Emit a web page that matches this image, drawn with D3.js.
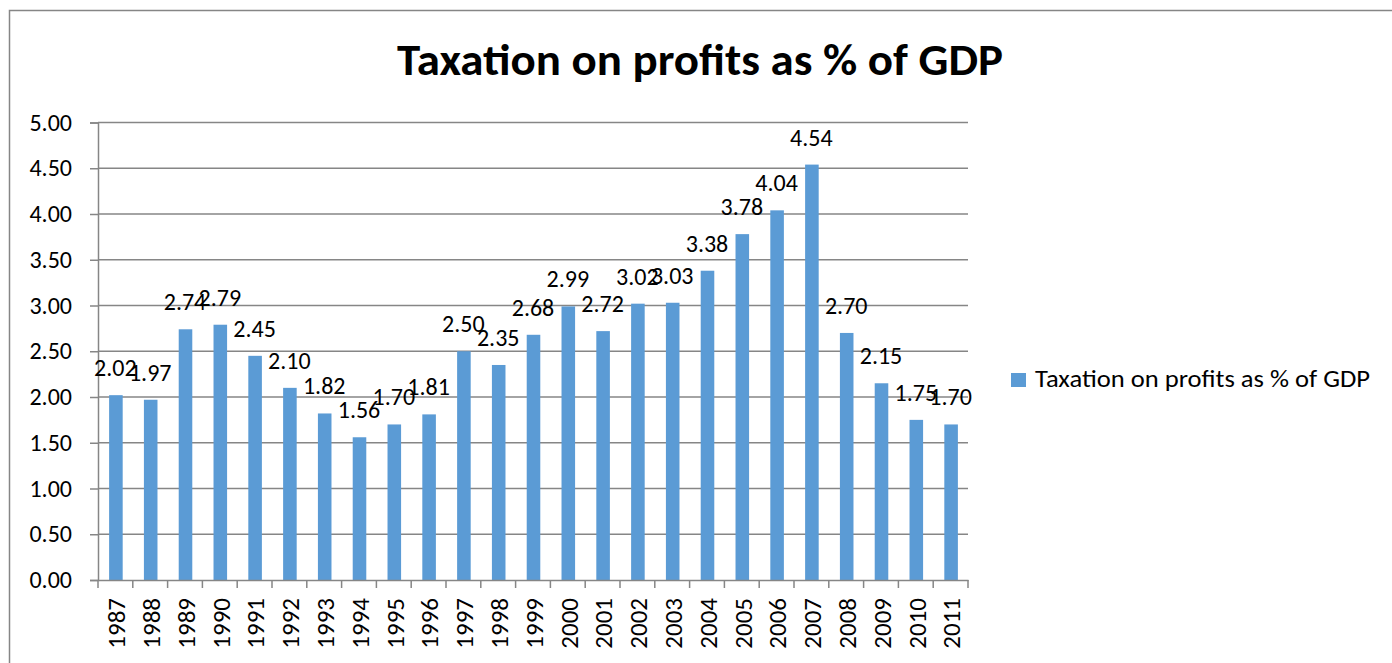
<!DOCTYPE html>
<html>
<head>
<meta charset="utf-8">
<script src="https://cdn.jsdelivr.net/npm/d3@7"></script>
<style>
  html, body { margin: 0; padding: 0; background: #fff; }
  svg { display: block; }
  text { font-family: Carlito, Lato, "Open Sans", sans-serif; fill: #000; }
</style>
</head>
<body>
<svg id="chart" width="1392" height="663"></svg>
<script>
// Corporate profit taxation, share of GDP, by year
const years = ["1987","1988","1989","1990","1991","1992","1993","1994","1995","1996",
               "1997","1998","1999","2000","2001","2002","2003","2004","2005","2006",
               "2007","2008","2009","2010","2011"];
const taxShare = [2.02, 1.97, 2.74, 2.79, 2.45, 2.10, 1.82, 1.56, 1.70, 1.81,
                  2.50, 2.35, 2.68, 2.99, 2.72, 3.02, 3.03, 3.38, 3.78, 4.04,
                  4.54, 2.70, 2.15, 1.75, 1.70];
const yTicks = [0, 0.5, 1, 1.5, 2, 2.5, 3, 3.5, 4, 4.5, 5];
const seriesName = "Taxation on profits as % of GDP";
const chartTitle = "Taxation on profits as % of GDP";

const svg = d3.select("#chart");
const barColor = "#5B9BD5";
const axisColor = "#868686";
const fontStack = "Carlito, Lato, 'Open Sans', sans-serif";
const labelSize = 24;

// outer chart frame
svg.append("rect")
  .attr("x", 9.5).attr("y", 10.5)
  .attr("width", 1400).attr("height", 700)
  .attr("fill", "none").attr("stroke", axisColor).attr("stroke-width", 1.5);

const plot = { left: 98, right: 968, top: 122.5, bottom: 580 };

const x = d3.scaleBand().domain(years).range([plot.left, plot.right]).padding(0);
const y = d3.scaleLinear().domain([0, 5]).range([plot.bottom, plot.top]);

// value axis with short outward ticks
const yAxis = d3.axisLeft(y)
  .tickValues(yTicks)
  .tickFormat(d3.format(".2f"))
  .tickSize(8)
  .tickPadding(18);

const yg = svg.append("g").attr("transform", `translate(${plot.left},0)`).call(yAxis);
yg.select(".domain").attr("stroke", axisColor).attr("stroke-width", 1.5);
yg.selectAll(".tick line").attr("stroke", axisColor).attr("stroke-width", 1.5);
yg.selectAll(".tick text").attr("font-size", labelSize).attr("fill", "#000")
  .attr("font-family", fontStack);

// horizontal gridlines
svg.append("g").selectAll("line")
  .data(yTicks.filter(d => d > 0))
  .join("line")
  .attr("x1", plot.left).attr("x2", plot.right)
  .attr("y1", d => y(d)).attr("y2", d => y(d))
  .attr("stroke", axisColor).attr("stroke-width", 1.5);

// bars
const barW = x.bandwidth() * 0.39;
svg.append("g").selectAll("rect")
  .data(years)
  .join("rect")
  .attr("x", d => x(d) + x.bandwidth() / 2 - barW / 2 + 0.5)
  .attr("y", (d, i) => y(taxShare[i]))
  .attr("width", barW)
  .attr("height", (d, i) => y(0) - y(taxShare[i]))
  .attr("fill", barColor);

// category axis with vertical year labels
const xAxis = d3.axisBottom(x).tickSize(0).tickFormat(d => d);
const xg = svg.append("g").attr("transform", `translate(0,${plot.bottom})`).call(xAxis);
xg.select(".domain").attr("stroke", axisColor).attr("stroke-width", 1.5);
xg.selectAll(".tick text")
  .attr("font-size", 25).attr("fill", "#000")
  .attr("font-family", fontStack)
  .attr("text-anchor", "end")
  .attr("transform", "translate(1,18) rotate(-90)")
  .attr("x", 0).attr("y", 0).attr("dy", "0.35em");
// tick marks at category boundaries
const bounds = years.map(d => x(d)).concat([plot.right]);
xg.append("g").selectAll("line")
  .data(bounds)
  .join("line")
  .attr("x1", d => d).attr("x2", d => d)
  .attr("y1", 0).attr("y2", 8)
  .attr("stroke", axisColor).attr("stroke-width", 1.5);

// value labels above each bar
svg.append("g").selectAll("text")
  .data(years)
  .join("text")
  .attr("x", d => x(d) + x.bandwidth() / 2)
  .attr("y", (d, i) => y(taxShare[i]) - 19)
  .attr("text-anchor", "middle")
  .attr("font-size", labelSize)
  .text((d, i) => d3.format(".2f")(taxShare[i]));

// title
svg.append("text")
  .attr("x", 397).attr("y", 75)
  .attr("font-size", 44).attr("font-weight", "bold")
  .attr("textLength", 606).attr("lengthAdjust", "spacingAndGlyphs")
  .text(chartTitle);

// legend
const lg = svg.append("g").attr("transform", "translate(1011,373)");
lg.append("rect").attr("width", 15).attr("height", 14).attr("fill", barColor);
lg.append("text").attr("x", 24).attr("y", 14).attr("font-size", labelSize)
  .attr("textLength", 335).attr("lengthAdjust", "spacingAndGlyphs")
  .text(seriesName);
</script>
</body>
</html>
